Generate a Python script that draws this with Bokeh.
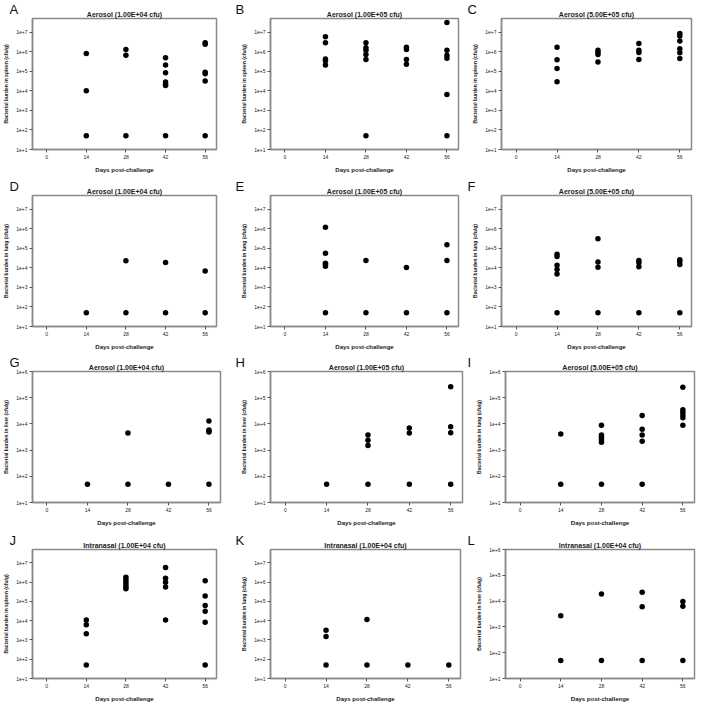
from bokeh.plotting import figure
from bokeh.layouts import column, row
from bokeh.models import Range1d, FixedTicker, CustomJSTickFormatter, Title
from bokeh.embed import file_html
from bokeh.resources import INLINE

FONT = "Liberation Sans"

# ---------------- data ----------------
day_ticks = [0, 14, 28, 42, 56]
y_ticks_spleen_lung = [1e1, 1e2, 1e3, 1e4, 1e5, 1e6, 1e7]
y_ticks_liver = [1e1, 1e2, 1e3, 1e4, 1e5, 1e6]

title_aer_1e4 = "Aerosol (1.00E+04 cfu)"
title_aer_1e5 = "Aerosol (1.00E+05 cfu)"
title_aer_5e5 = "Aerosol (5.00E+05 cfu)"
title_in_1e4 = "Intranasal (1.00E+04 cfu)"
ylab_spleen = "Bacterial burden in spleen (cfu/g)"
ylab_lung = "Bacterial burden in lung (cfu/g)"
ylab_liver = "Bacterial burden in liver (cfu/g)"
xlab = "Days post-challenge"

# Panel A: spleen, aerosol 1e4
a_days = [14, 14, 14, 28, 28, 28, 42, 42, 42, 42, 42, 42, 42, 56, 56, 56, 56, 56, 56]
a_cfu = [8.1e5, 1.0e4, 50, 1.3e6, 6.6e5, 50, 4.9e5, 2.1e5, 8.3e4, 2.8e4, 2.2e4, 1.9e4, 50,
         2.9e6, 2.4e6, 8.9e4, 7.4e4, 3.2e4, 50]
# Panel B: spleen, aerosol 1e5
b_days = [14, 14, 14, 14, 14, 28, 28, 28, 28, 28, 28, 42, 42, 42, 42, 56, 56, 56, 56, 56, 56]
b_cfu = [5.8e6, 2.9e6, 4.2e5, 3.5e5, 2.1e5, 2.9e6, 1.6e6, 1.2e6, 7.3e5, 4.0e5, 50,
         1.7e6, 1.3e6, 4.0e5, 2.3e5, 3.1e7, 1.2e6, 6.6e5, 4.6e5, 6.4e3, 50]
# Panel C: spleen, aerosol 5e5
c_days = [14, 14, 14, 14, 28, 28, 28, 28, 42, 42, 42, 42, 56, 56, 56, 56, 56, 56]
c_cfu = [1.7e6, 3.9e5, 1.4e5, 2.9e4, 1.2e6, 9.2e5, 7.2e5, 3.0e5, 2.6e6, 1.2e6, 9.2e5, 4.0e5,
         8.5e6, 6.3e6, 3.5e6, 1.4e6, 8.8e5, 4.5e5]
# Panel D: lung, aerosol 1e4
d_days = [14, 28, 28, 42, 42, 56, 56]
d_cfu = [50, 2.3e4, 50, 1.9e4, 50, 6.8e3, 50]
# Panel E: lung, aerosol 1e5
e_days = [14, 14, 14, 14, 14, 14, 28, 28, 42, 42, 56, 56, 56]
e_cfu = [1.2e6, 5.5e4, 1.7e4, 1.5e4, 1.2e4, 50, 2.4e4, 50, 1.05e4, 50, 1.5e5, 2.4e4, 50]
# Panel F: lung, aerosol 5e5
f_days = [14, 14, 14, 14, 14, 14, 28, 28, 28, 28, 42, 42, 42, 42, 56, 56, 56, 56]
f_cfu = [4.9e4, 3.8e4, 1.35e4, 8.2e3, 4.9e3, 50, 3.1e5, 2.0e4, 1.07e4, 50,
         2.4e4, 1.8e4, 1.15e4, 50, 2.6e4, 2.1e4, 1.5e4, 50]
# Panel G: liver, aerosol 1e4
g_days = [14, 28, 28, 42, 56, 56, 56, 56, 56]
g_cfu = [50, 4.5e3, 50, 50, 1.3e4, 5.8e3, 5.2e3, 4.9e3, 50]
# Panel H: liver, aerosol 1e5
h_days = [14, 28, 28, 28, 28, 42, 42, 42, 56, 56, 56, 56]
h_cfu = [50, 3.8e3, 2.4e3, 1.5e3, 50, 6.9e3, 4.5e3, 50, 2.6e5, 7.8e3, 4.6e3, 50]
# Panel I: liver (labelled lung), aerosol 5e5
i_days = [14, 14, 28, 28, 28, 28, 28, 28, 42, 42, 42, 42, 42, 56, 56, 56, 56, 56, 56]
i_cfu = [4.1e3, 50, 8.9e3, 3.8e3, 3.1e3, 2.5e3, 2.0e3, 50, 2.1e4, 6.2e3, 3.8e3, 2.2e3, 50,
         2.5e5, 3.5e4, 2.8e4, 2.2e4, 1.7e4, 8.9e3]
# Panel J: spleen, intranasal 1e4
j_days = [14, 14, 14, 14, 28, 28, 28, 28, 28, 28, 42, 42, 42, 42, 42, 56, 56, 56, 56, 56, 56]
j_cfu = [1.1e4, 6.1e3, 2.1e3, 50, 1.8e6, 1.35e6, 1.0e6, 7.3e5, 5.6e5, 4.6e5,
         5.8e6, 1.6e6, 1.0e6, 5.6e5, 1.1e4, 1.2e6, 1.9e5, 6.2e4, 3.1e4, 8.4e3, 50]
# Panel K: lung, intranasal 1e4
k_days = [14, 14, 14, 28, 28, 42, 56]
k_cfu = [3.2e3, 1.5e3, 50, 1.17e4, 50, 50, 50]
# Panel L: liver, intranasal 1e4
l_days = [14, 14, 28, 28, 42, 42, 42, 56, 56, 56]
l_cfu = [2.7e3, 50, 1.9e4, 50, 2.2e4, 6.0e3, 50, 9.7e3, 6.3e3, 50]


def panel(letter, title, ylabel, days, cfu, yticks, ytop,
          w, h, left, right, top, bottom):
    p = figure(width=w, height=h, output_backend="svg", toolbar_location=None,
               x_range=Range1d(-5, 60), y_range=Range1d(10, ytop),
               y_axis_type="log",
               min_border_left=left, min_border_right=right,
               min_border_top=top, min_border_bottom=bottom,
               background_fill_color="white", border_fill_color="white")
    p.scatter(days, cfu, size=5.5, color="black", line_color=None)
    p.grid.visible = False
    p.outline_line_color = "#8a8a8a"
    p.outline_line_width = 1.5

    # main title (inner, next to the frame)
    p.add_layout(Title(text=title, align="center", text_font=FONT,
                       text_font_size="7px", text_font_style="bold",
                       text_color="#222222", standoff=2), "above")
    # panel letter: the plot's own title, pulled down beside the main title
    p.title.text = letter
    p.title.align = "left"
    p.title.offset = -(left - 3)
    p.title.standoff = -18
    p.title.text_font = FONT
    p.title.text_font_size = "13px"
    p.title.text_font_style = "normal"
    p.title.text_color = "#111111"

    for ax in (p.xaxis[0], p.yaxis[0]):
        ax.axis_line_color = "#8a8a8a"
        ax.axis_line_width = 1.5
        ax.major_tick_line_color = "#555555"
        ax.major_tick_in = 0
        ax.major_tick_out = 3
        ax.minor_tick_line_color = None
        ax.major_label_text_font = FONT
        ax.major_label_text_font_size = "5px"
        ax.major_label_text_color = "#222222"
        ax.axis_label_text_font = FONT
        ax.axis_label_text_font_style = "bold"
        ax.axis_label_text_color = "#222222"

    p.xaxis.ticker = FixedTicker(ticks=day_ticks)
    p.xaxis.axis_label = xlab
    p.xaxis.axis_label_text_font_size = "6px"
    p.xaxis.major_label_standoff = 2
    p.xaxis.axis_label_standoff = 5

    p.yaxis.ticker = FixedTicker(ticks=yticks)
    p.yaxis.formatter = CustomJSTickFormatter(
        code="return '1e+' + Math.round(Math.log10(tick));")
    p.yaxis.axis_label = ylabel
    p.yaxis.axis_label_text_font_size = "5px"
    p.yaxis.major_label_standoff = 2
    p.yaxis.axis_label_standoff = 4
    return p


# rows: (height, top, bottom)
r1 = (176, 18, 27)
r2 = (176, 19, 25)
r3 = (176, 19, 25)
r4 = (176, 21, 22)
# columns: (width, left, right)
c1 = (232, 26, 16)
c2 = (232, 38, 6)
c3 = (232, 37, 5)

ytop7 = 5e7
ytop6 = 1e6

pA = panel("A", title_aer_1e4, ylab_spleen, a_days, a_cfu, y_ticks_spleen_lung, ytop7, c1[0], r1[0], c1[1], c1[2], r1[1], r1[2])
pB = panel("B", title_aer_1e5, ylab_spleen, b_days, b_cfu, y_ticks_spleen_lung, ytop7, c2[0], r1[0], c2[1], c2[2], r1[1], r1[2])
pC = panel("C", title_aer_5e5, ylab_spleen, c_days, c_cfu, y_ticks_spleen_lung, ytop7, c3[0], r1[0], c3[1], c3[2], r1[1], r1[2])
pD = panel("D", title_aer_1e4, ylab_lung, d_days, d_cfu, y_ticks_spleen_lung, ytop7, c1[0], r2[0], c1[1], c1[2], r2[1], r2[2])
pE = panel("E", title_aer_1e5, ylab_lung, e_days, e_cfu, y_ticks_spleen_lung, ytop7, c2[0], r2[0], c2[1], c2[2], r2[1], r2[2])
pF = panel("F", title_aer_5e5, ylab_lung, f_days, f_cfu, y_ticks_spleen_lung, ytop7, c3[0], r2[0], c3[1], c3[2], r2[1], r2[2])
pG = panel("G", title_aer_1e4, ylab_liver, g_days, g_cfu, y_ticks_liver, ytop6, c1[0], r3[0], c1[1], c1[2] - 4, r3[1], r3[2])
pH = panel("H", title_aer_1e5, ylab_liver, h_days, h_cfu, y_ticks_liver, ytop6, c2[0], r3[0], c2[1], c2[2] - 4, r3[1], r3[2])
pI = panel("I", title_aer_5e5, ylab_lung, i_days, i_cfu, y_ticks_liver, ytop6, c3[0], r3[0], c3[1] + 4, c3[2] - 3, r3[1], r3[2])
pJ = panel("J", title_in_1e4, ylab_spleen, j_days, j_cfu, y_ticks_spleen_lung, ytop7, c1[0], r4[0], c1[1], c1[2], r4[1], r4[2])
pK = panel("K", title_in_1e4, ylab_lung, k_days, k_cfu, y_ticks_spleen_lung, ytop7, c2[0], r4[0], c2[1], c2[2] - 2, r4[1], r4[2])
pL = panel("L", title_in_1e4, ylab_liver, l_days, l_cfu, y_ticks_liver, ytop6, c3[0], r4[0], c3[1] + 4, c3[2] - 3, r4[1], r4[2])

layout = column(row(pA, pB, pC, spacing=0), row(pD, pE, pF, spacing=0),
                row(pG, pH, pI, spacing=0), row(pJ, pK, pL, spacing=0), spacing=0)

open("out.html", "w").write(file_html(layout, INLINE))
